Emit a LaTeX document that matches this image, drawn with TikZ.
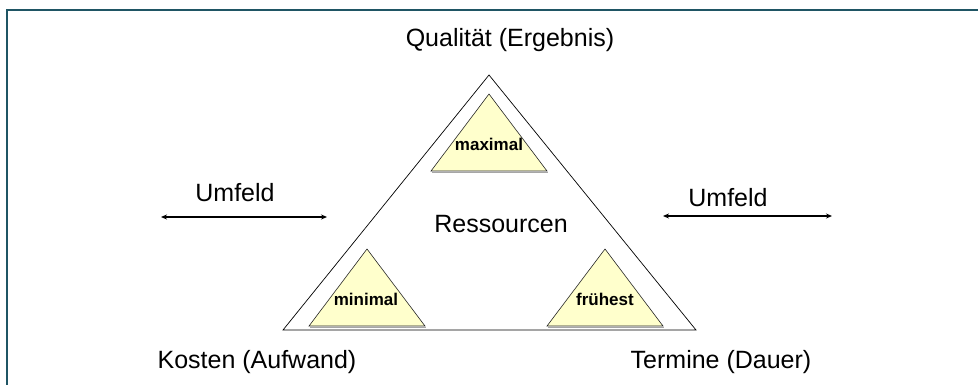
\documentclass[tikz,border=0pt]{standalone}
\usepackage{fontspec}
\setmainfont{Liberation Sans}
\usepackage{tikz}
\usetikzlibrary{arrows.meta}
\definecolor{frame}{RGB}{31,85,100}
\definecolor{paleyellow}{RGB}{255,255,204}
\tikzset{
    corner/.style={font=\fontsize{25}{30}\selectfont, anchor=base, inner sep=0pt},
    goal/.style={font=\bfseries\fontsize{17}{20}\selectfont, anchor=base, inner sep=0pt},
    small/.style={fill=paleyellow, draw=black!85, line width=0.6pt},
    arrow/.style={{Stealth[length=6pt,width=5pt]}-{Stealth[length=6pt,width=5pt]}, line width=1.2pt}
}

\begin{document}
\begin{tikzpicture}[x=1pt, y=-1pt]
    \useasboundingbox (0,0) rectangle (978,385);

    % Frame
    \draw[frame, line width=2pt] (978,10) -- (7,10) -- (7,385);

    % Outer triangle
    \coordinate (top) at (489,75);
    \coordinate (left) at (283,330);
    \coordinate (right) at (696,330);
    \draw[line width=0.7pt] (left) -- (top) -- (right) -- cycle;

    % Inner triangles
    \foreach \x/\y in {489/94, 367/249, 605/249} {
        \draw[black!35, line width=1.2pt] (\x-57,\y+78.5) -- (\x+59,\y+78.5);
        \draw[small] (\x,\y) -- (\x+58,\y+77) -- (\x-58,\y+77) -- cycle;
    }

    % Labels
    \node[corner] (quality) at (510,47) {Qualität (Ergebnis)};
    \node[corner] (cost) at (257,368) {Kosten (Aufwand)};
    \node[corner] (time) at (721,368) {Termine (Dauer)};
    \node[corner] (res) at (501,233) {Ressourcen};
    \node[corner] (envl) at (235,201) {Umfeld};
    \node[corner] (envr) at (728,207) {Umfeld};

    \node[goal] (max) at (489,151) {maximal};
    \node[goal] (min) at (366,305) {minimal};
    \node[goal] (early) at (605,305) {frühest};

    % Environment arrows
    \coordinate (l1) at (161,217);
    \coordinate (l2) at (327,217);
    \coordinate (r1) at (663,216);
    \coordinate (r2) at (832,216);
    \draw[arrow] (l1) -- (l2);
    \draw[arrow] (r1) -- (r2);
\end{tikzpicture}
\end{document}
